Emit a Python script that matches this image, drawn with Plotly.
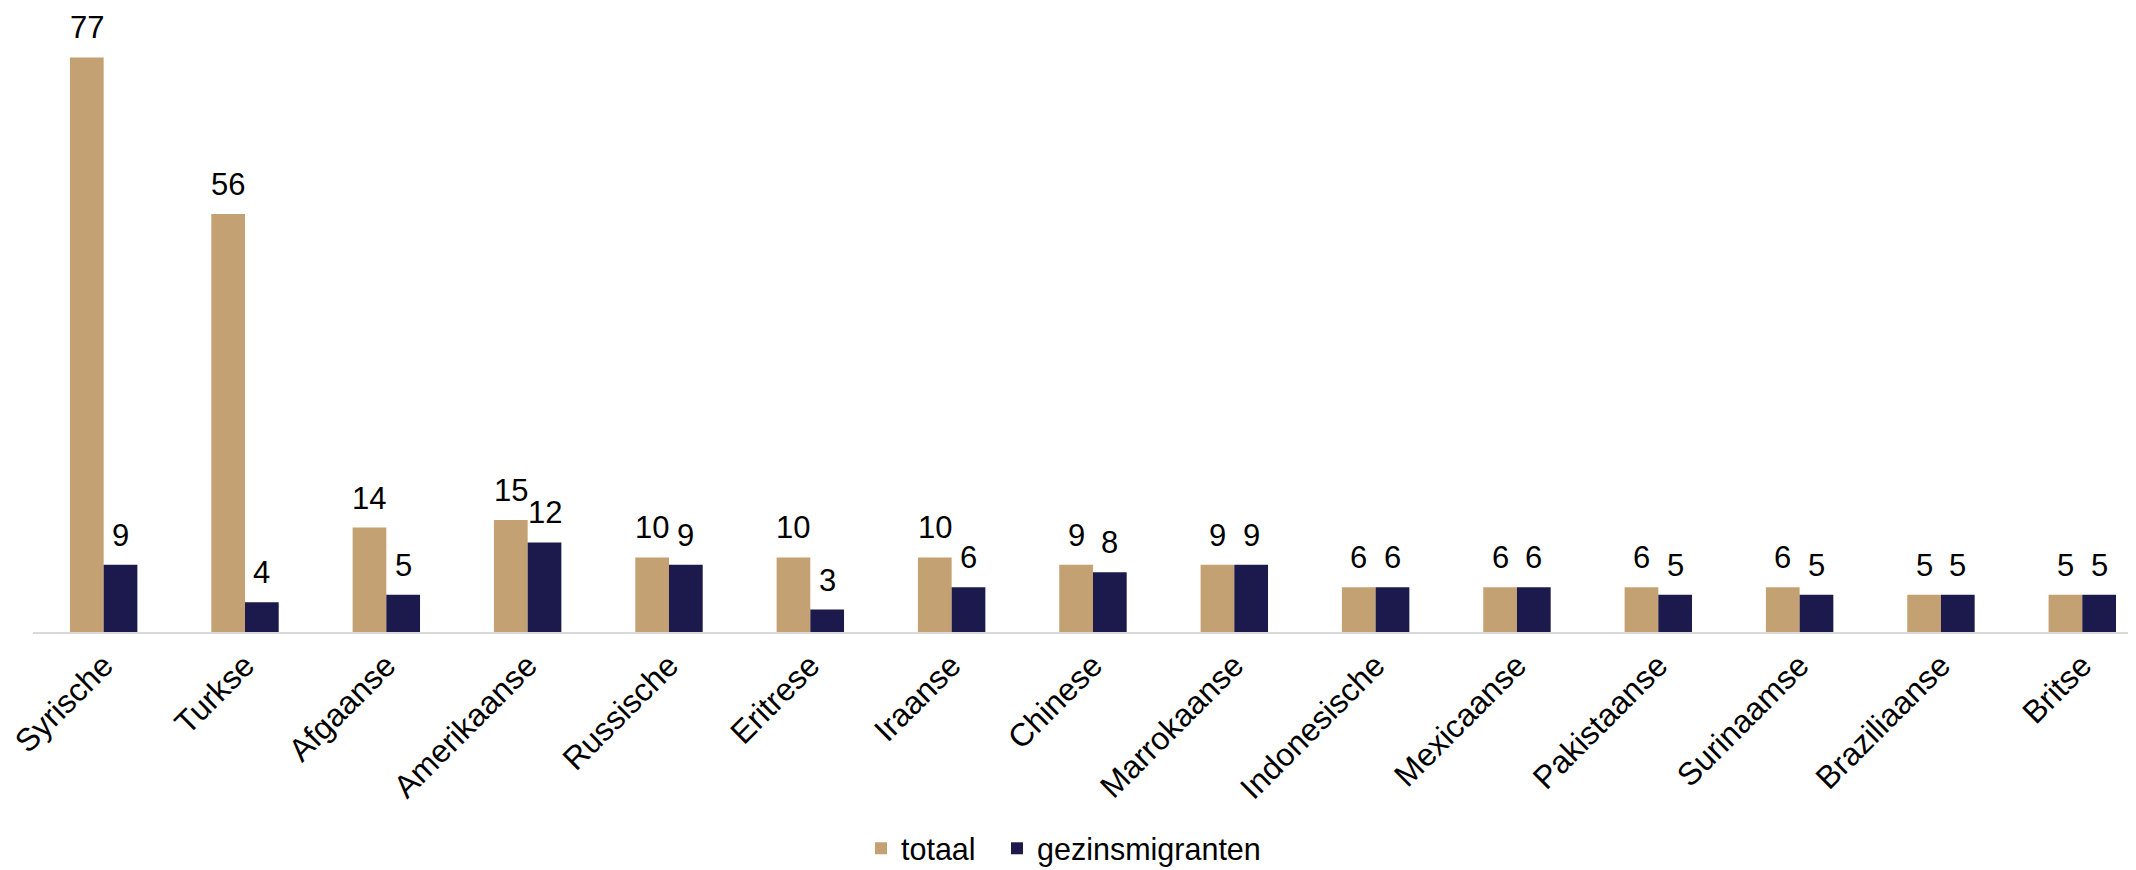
import plotly.graph_objects as go

categories = ["Syrische", "Turkse", "Afgaanse", "Amerikaanse", "Russische", "Eritrese",
              "Iraanse", "Chinese", "Marrokaanse", "Indonesische", "Mexicaanse",
              "Pakistaanse", "Surinaamse", "Braziliaanse", "Britse"]
totaal = [77, 56, 14, 15, 10, 10, 10, 9, 9, 6, 6, 6, 6, 5, 5]
gezinsmigranten = [9, 4, 5, 12, 9, 3, 6, 8, 9, 6, 6, 5, 5, 5, 5]

TAN = "#C4A172"
NAVY = "#1C1A4D"
FONT = "Liberation Sans, Arial, sans-serif"

fig = go.Figure()
fig.add_trace(go.Bar(name="totaal", x=categories, y=totaal, marker_color=TAN,
                     marker_line_width=0, legendwidth=91))
fig.add_trace(go.Bar(name="gezinsmigranten", x=categories, y=gezinsmigranten,
                     marker_color=NAVY, marker_line_width=0))

BAR_PX = 33.7
LABEL_FONT = dict(size=31, color="black", family=FONT)
for cat, v in zip(categories, totaal):
    fig.add_annotation(x=cat, y=v, text=str(v), showarrow=False, xshift=-BAR_PX / 2,
                       yanchor="bottom", yshift=10, font=LABEL_FONT)
for cat, v in zip(categories, gezinsmigranten):
    fig.add_annotation(x=cat, y=v, text=str(v), showarrow=False, xshift=BAR_PX / 2,
                       yanchor="bottom", yshift=10, font=LABEL_FONT)

# page body has an 8px margin; figure is sized/offset to compensate
fig.update_layout(
    width=2128, height=862,
    margin=dict(l=25, r=0, t=27, b=238),
    barmode="group", bargap=0.523, bargroupgap=0,
    plot_bgcolor="white", paper_bgcolor="white",
    font=dict(family=FONT, size=30, color="black"),
    showlegend=True,
    legend=dict(orientation="h", xref="container", yref="container", x=0.496, y=0.025,
                xanchor="center", yanchor="middle", font=dict(size=30.5, color="black"),
                bgcolor="rgba(0,0,0,0)"),
)
fig.update_xaxes(range=[-0.5, 14.38], tickangle=-45, showgrid=False, showline=True,
                 linecolor="#D9D9D9", linewidth=2, ticks="", tickfont=dict(size=32, color="black"))
fig.update_yaxes(range=[0, 80], visible=False, showgrid=False, zeroline=False)

fig.write_html("out.html")
